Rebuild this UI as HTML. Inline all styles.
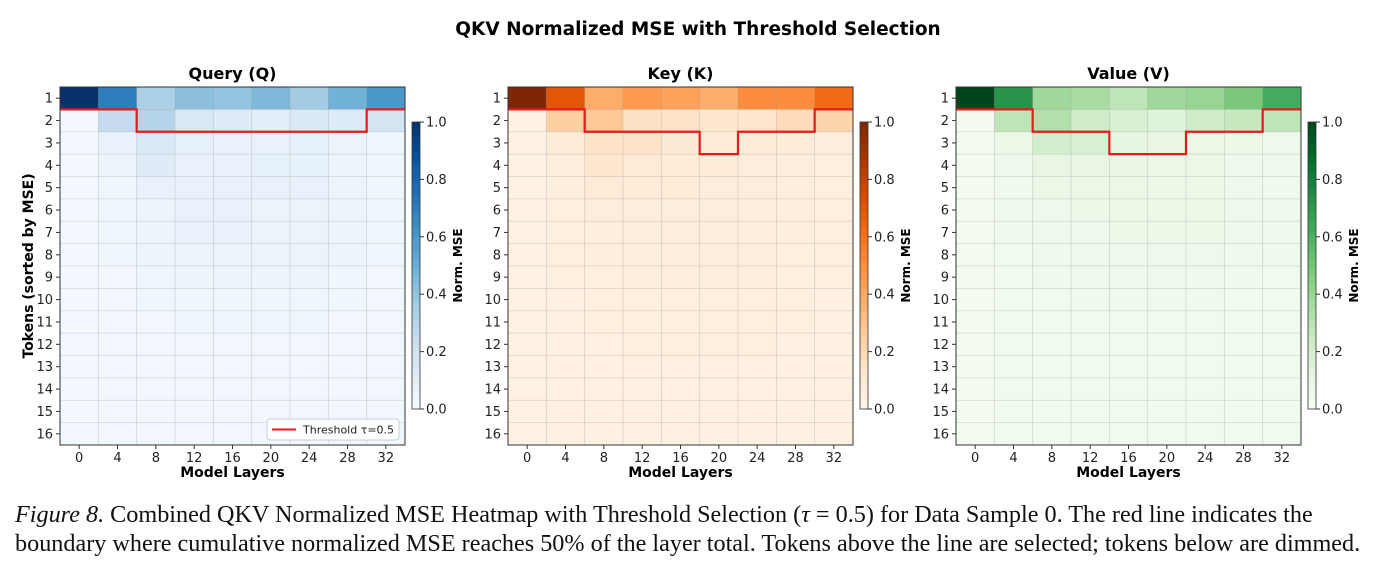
<!DOCTYPE html>
<html><head><meta charset="utf-8"><style>
body{margin:0;background:#fff;width:1382px;height:566px;overflow:hidden;font-family:"DejaVu Sans","Liberation Sans",sans-serif}
svg text{font-family:"DejaVu Sans","Liberation Sans",sans-serif}
.cap{position:absolute;left:15px;top:500px;width:1370px;font-family:"Liberation Serif",serif;font-size:24.2px;line-height:29px;color:#111;white-space:nowrap}
</style></head><body>
<svg id="chart" width="1382" height="500" style="position:absolute;left:0;top:0">
<text x="698" y="35" text-anchor="middle" font-size="18.5" font-weight="bold">QKV Normalized MSE with Threshold Selection</text>
</svg>
<div class="cap"><i>Figure 8.</i> Combined QKV Normalized MSE Heatmap with Threshold Selection (<i>τ</i> = 0.5) for Data Sample 0. The red line indicates the<br>boundary where cumulative normalized MSE reaches 50% of the layer total. Tokens above the line are selected; tokens below are dimmed.</div>
<script>
const layers=[0,4,8,12,16,20,24,28,32];
const tokens=[1,2,3,4,5,6,7,8,9,10,11,12,13,14,15,16];
const cbTicks=[0,0.2,0.4,0.6,0.8,1.0];
const qVals=[
[1.0,0.70,0.33,0.42,0.40,0.45,0.36,0.48,0.60],
[0.02,0.25,0.30,0.15,0.12,0.10,0.14,0.13,0.18],
[0.02,0.07,0.15,0.08,0.07,0.07,0.08,0.06,0.04],
[0.02,0.05,0.12,0.07,0.07,0.08,0.08,0.05,0.04],
[0.02,0.04,0.07,0.07,0.07,0.07,0.07,0.05,0.04],
[0.02,0.04,0.05,0.07,0.07,0.06,0.06,0.05,0.04],
[0.02,0.04,0.05,0.07,0.07,0.06,0.06,0.05,0.04],
[0.02,0.04,0.05,0.06,0.06,0.06,0.06,0.05,0.04],
[0.02,0.03,0.04,0.05,0.05,0.05,0.05,0.04,0.03],
[0.02,0.03,0.04,0.04,0.04,0.04,0.04,0.04,0.03],
[0.02,0.03,0.03,0.04,0.04,0.04,0.04,0.03,0.03],
[0.02,0.03,0.03,0.03,0.03,0.03,0.03,0.03,0.03],
[0.02,0.03,0.03,0.03,0.03,0.03,0.03,0.03,0.03],
[0.02,0.03,0.03,0.03,0.03,0.03,0.03,0.03,0.03],
[0.02,0.03,0.03,0.03,0.03,0.03,0.03,0.03,0.03],
[0.02,0.03,0.03,0.03,0.03,0.03,0.03,0.03,0.03]];
const kVals=[
[1.0,0.70,0.38,0.45,0.42,0.38,0.50,0.50,0.62],
[0.03,0.25,0.28,0.15,0.14,0.12,0.12,0.18,0.22],
[0.03,0.08,0.14,0.14,0.10,0.09,0.09,0.08,0.06],
[0.03,0.07,0.12,0.09,0.08,0.08,0.07,0.07,0.05],
[0.03,0.06,0.09,0.08,0.08,0.07,0.07,0.06,0.05],
[0.03,0.05,0.07,0.07,0.07,0.07,0.06,0.06,0.05],
[0.03,0.05,0.06,0.07,0.07,0.06,0.06,0.06,0.05],
[0.03,0.05,0.06,0.06,0.06,0.06,0.06,0.05,0.05],
[0.03,0.05,0.05,0.06,0.06,0.06,0.06,0.05,0.05],
[0.03,0.04,0.05,0.05,0.05,0.05,0.05,0.05,0.04],
[0.03,0.04,0.05,0.05,0.05,0.05,0.05,0.05,0.04],
[0.03,0.04,0.04,0.05,0.05,0.05,0.05,0.04,0.04],
[0.03,0.04,0.04,0.04,0.04,0.04,0.04,0.04,0.04],
[0.03,0.04,0.04,0.04,0.04,0.04,0.04,0.04,0.04],
[0.03,0.04,0.04,0.04,0.04,0.04,0.04,0.04,0.04],
[0.03,0.04,0.04,0.04,0.04,0.04,0.04,0.04,0.04]];
const vVals=[
[1.0,0.72,0.38,0.35,0.28,0.38,0.40,0.48,0.62],
[0.03,0.28,0.32,0.22,0.18,0.15,0.22,0.25,0.28],
[0.03,0.08,0.20,0.18,0.12,0.10,0.08,0.07,0.06],
[0.03,0.06,0.10,0.10,0.09,0.08,0.08,0.06,0.05],
[0.03,0.05,0.08,0.08,0.08,0.07,0.07,0.06,0.05],
[0.03,0.05,0.06,0.07,0.07,0.07,0.07,0.06,0.05],
[0.03,0.05,0.06,0.06,0.07,0.07,0.07,0.06,0.05],
[0.03,0.04,0.05,0.06,0.06,0.06,0.06,0.05,0.05],
[0.03,0.04,0.05,0.05,0.05,0.05,0.05,0.05,0.04],
[0.03,0.04,0.04,0.05,0.05,0.05,0.05,0.04,0.04],
[0.03,0.04,0.04,0.04,0.04,0.04,0.04,0.04,0.04],
[0.03,0.04,0.04,0.04,0.04,0.04,0.04,0.04,0.04],
[0.03,0.04,0.04,0.04,0.04,0.04,0.04,0.04,0.04],
[0.03,0.04,0.04,0.04,0.04,0.04,0.04,0.04,0.04],
[0.03,0.04,0.04,0.04,0.04,0.04,0.04,0.04,0.04],
[0.03,0.04,0.04,0.04,0.04,0.04,0.04,0.04,0.04]];
const qThresh=[1,1,2,2,2,2,2,2,1];
const kThresh=[1,1,2,2,2,3,2,2,1];
const vThresh=[1,1,2,2,3,3,2,2,1];
const CMAPS={
blues:["#f7fbff","#deebf7","#c6dbef","#9ecae1","#6baed6","#4292c6","#2171b5","#08519c","#08306b"],
oranges:["#fff5eb","#fee6ce","#fdd0a2","#fdae6b","#fd8d3c","#f16913","#d94801","#a63603","#7f2704"],
greens:["#f7fcf5","#e5f5e0","#c7e9c0","#a1d99b","#74c476","#41ab5d","#238b45","#006d2c","#00441b"]};
function hx(c){return [1,3,5].map(i=>parseInt(c.substr(i,2),16));}
function cmap(name,v){const s=CMAPS[name];v=Math.max(0,Math.min(1,v));const p=v*8,i=Math.min(7,Math.floor(p)),f=p-i;const a=hx(s[i]),b=hx(s[i+1]);return `rgb(${a.map((x,k)=>Math.round(x+(b[k]-x)*f)).join(',')})`;}
const svg=document.getElementById('chart');const NS='http://www.w3.org/2000/svg';
function mk(tag,attrs,parent){const e=document.createElementNS(NS,tag);for(const k in attrs)e.setAttribute(k,attrs[k]);(parent||svg).appendChild(e);return e;}
const TOP=87,BOT=445,W=345;
const panels=[
{id:'query',title:'Query (Q)',left:60,vals:qVals,th:qThresh,cm:'blues',legend:true},
{id:'key',title:'Key (K)',left:508,vals:kVals,th:kThresh,cm:'oranges'},
{id:'value',title:'Value (V)',left:956,vals:vVals,th:vThresh,cm:'greens'}];
panels.forEach((p,pi)=>{
  const g=mk('g',{});
  
  
  const cw=W/layers.length,rh=(BOT-TOP)/tokens.length;
  const xs=i=>p.left+i*cw, ys=j=>TOP+j*rh;
  const t=mk('text',{x:p.left+W/2,y:79,'text-anchor':'middle','font-size':16,'font-weight':'bold'},g);t.textContent=p.title;
  
  
  p.vals.forEach((row,j)=>row.forEach((v,i)=>{
    const r=mk('rect',{x:xs(i),y:ys(j),width:cw+0.5,height:rh+0.5,fill:cmap(p.cm,v)},g);
    
    
  }));
  for(let i=1;i<layers.length;i++)mk('line',{x1:xs(i),x2:xs(i),y1:TOP,y2:BOT,stroke:'#999','stroke-opacity':0.35,'stroke-width':0.8},g);
  for(let j=1;j<tokens.length;j++)mk('line',{x1:p.left,x2:p.left+W,y1:ys(j),y2:ys(j),stroke:'#999','stroke-opacity':0.35,'stroke-width':0.8},g);
  let d='';p.th.forEach((n,i)=>{const y=ys(n);d+=(i==0?'M':'L')+xs(i)+' '+y+' L'+xs(i+1)+' '+y+' ';});
  const th=mk('path',{d:d,fill:'none',stroke:'#e41a1c','stroke-width':2.2},g);
  
  
  mk('rect',{x:p.left,y:TOP,width:W,height:BOT-TOP,fill:'none',stroke:'#333','stroke-width':1},g);
  layers.forEach((l,i)=>{const x=xs(i)+cw/2;mk('line',{x1:x,x2:x,y1:BOT,y2:BOT+4,stroke:'#333'},g);
    const tt=mk('text',{x:x,y:BOT+17,'text-anchor':'middle','font-size':13,fill:'#222'},g);tt.textContent=l;
    
    });
  tokens.forEach((k,j)=>{const y=ys(j)+rh/2;mk('line',{x1:p.left-4,x2:p.left,y1:y,y2:y,stroke:'#333'},g);
    const tt=mk('text',{x:p.left-7,y:y+4.5,'text-anchor':'end','font-size':13,fill:'#222'},g);tt.textContent=k;
    
    });
  const xl=mk('text',{x:p.left+W/2,y:477,'text-anchor':'middle','font-size':14,'font-weight':'bold'},g);xl.textContent='Model Layers';
  
  
  if(pi==0){const yl=mk('text',{x:0,y:0,'text-anchor':'middle','font-size':14,'font-weight':'bold',transform:'translate(33,'+(TOP+BOT)/2+') rotate(-90)'},g);yl.textContent='Tokens (sorted by MSE)';
    
    }
  const cx=p.left+W+7,cwid=8,cT=122,cB=409;
  const gid='grad'+pi;const defs=mk('defs',{},g);const lg=mk('linearGradient',{id:gid,x1:0,y1:1,x2:0,y2:0},defs);
  CMAPS[p.cm].forEach((c,i)=>mk('stop',{offset:i/8,'stop-color':c},lg));
  const cb=mk('rect',{x:cx,y:cT,width:cwid,height:cB-cT,fill:'url(#'+gid+')',stroke:'#333','stroke-width':0.8},g);
  
  
  cbTicks.forEach(v=>{const y=cB-v*(cB-cT);mk('line',{x1:cx+cwid,x2:cx+cwid+4,y1:y,y2:y,stroke:'#333'},g);
    const tt=mk('text',{x:cx+cwid+6,y:y+4.5,'font-size':13,fill:'#222'},g);tt.textContent=v.toFixed(1);
    
    });
  const cl=mk('text',{x:0,y:0,'text-anchor':'middle','font-size':12,'font-weight':'bold',transform:'translate('+(cx+cwid+42)+','+(cT+cB)/2+') rotate(-90)'},g);cl.textContent='Norm. MSE';
  
  
  if(p.legend){const lgG=mk('g',{},g);
    
    
    mk('rect',{x:267,y:419,width:132,height:21,rx:3,fill:'#fff','fill-opacity':0.9,stroke:'#ccc'},lgG);
    mk('line',{x1:272,x2:296,y1:429.5,y2:429.5,stroke:'#e41a1c','stroke-width':2},lgG);
    const lt=mk('text',{x:303,y:433.5,'font-size':11,fill:'#222'},lgG);lt.textContent='Threshold τ=0.5';}
});
</script>
</body></html>
